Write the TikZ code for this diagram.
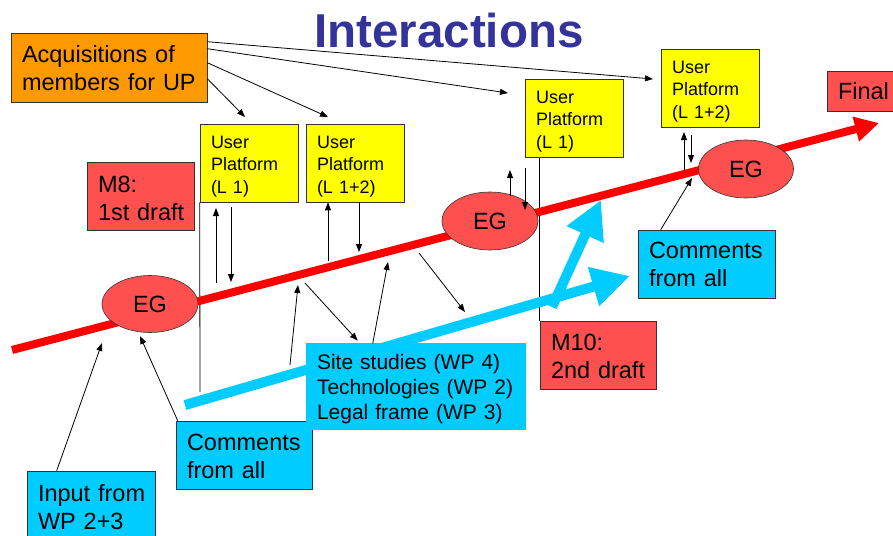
\documentclass[tikz,border=0pt]{standalone}
\usepackage{fontspec}
\setmainfont{Liberation Sans}
\usetikzlibrary{arrows.meta,calc,shapes.geometric,backgrounds}
\definecolor{ttl}{HTML}{333399}
\definecolor{orng}{HTML}{FF9900}
\definecolor{rbox}{HTML}{FF5050}
\definecolor{cyanb}{HTML}{00CCFF}
\definecolor{yel}{HTML}{FFFF00}
\definecolor{redl}{HTML}{FF0000}
\begin{document}
\begin{tikzpicture}[x=1pt,y=-1pt,
 bx/.style={draw=black!80,line width=0.6pt,inner xsep=11pt,inner ysep=0pt,align=left,font=\fontsize{23.5}{28}\selectfont},
 ybx/.style={bx,fill=yel,font=\fontsize{18}{22.5}\selectfont,text width=76pt,text height=24pt,text depth=54pt},
 obx/.style={bx,fill=orng},
 rbx/.style={bx,fill=rbox},
 cbx/.style={bx,fill=cyanb},
 eg/.style={ellipse,draw=black!80,line width=0.6pt,fill=rbox,inner sep=0pt,font=\fontsize{23.5}{28}\selectfont},
 arr/.style={line width=0.8pt,-{Triangle[length=8pt,width=6pt]}},
 ln/.style={line width=0.8pt},
 redarr/.style={line width=8pt,draw=redl,-{Triangle[length=24pt,width=24pt]}},
 bluearr/.style={line width=10pt,draw=cyanb,-{Triangle[length=38pt,width=38pt]}}
]
\useasboundingbox (0,0) rectangle (893,535);

% title
\node[anchor=base,font=\fontsize{47.5}{50}\selectfont\bfseries,text=ttl,inner sep=0pt] (title) at (449,47.5) {Interactions};

% boxes
\node[obx,text width=174pt,text height=30pt,text depth=39pt] (acq) at (109,67.5) {Acquisitions~of\\members~for~UP};
\node[ybx] (up1) at (249,163) {User\\Platform\\(L~1)};
\node[ybx] (up2) at (355,163) {User\\Platform\\(L~1+2)};
\node[ybx] (up3) at (574,118) {User\\Platform\\(L~1)};
\node[ybx] (up4) at (710,88) {User\\Platform\\(L~1+2)};
\node[rbx,text width=85pt,text height=30pt,text depth=38pt] (m8) at (140.5,196) {M8:\\1st~draft};
\node[rbx,text width=94pt,text height=29pt,text depth=39pt] (m10) at (598,355) {M10:\\2nd~draft};
\node[rbx,text width=53pt,text height=28pt,text depth=12pt] (final) at (864.5,91) {Final};
\node[cbx,text width=106pt,text height=30pt,text depth=38pt] (input) at (91,505) {Input~from\\WP~2+3};
\node[cbx,text width=114pt,text height=29pt,text depth=39pt] (com1) at (244,455) {Comments\\from~all};
\node[cbx,text width=115pt,text height=28pt,text depth=40pt] (com2) at (706.5,264) {Comments\\from~all};
\node[cbx,draw=none,text width=198pt,text height=26pt,text depth=61pt,font=\fontsize{21}{25}\selectfont] (site) at (416,386.5) {Site~studies~(WP~4)\\Technologies~(WP~2)\\Legal~frame~(WP~3)};

% ellipses
\node[eg,minimum width=96pt,minimum height=57pt] (eg1) at (150,304) {EG};
\node[eg,minimum width=96pt,minimum height=58pt] (eg2) at (490,221) {EG};
\node[eg,minimum width=95pt,minimum height=58pt] (eg3) at (746,169) {EG};

% coordinates
\coordinate (v1) at (200,392);
\coordinate (r0) at (12,350);
\coordinate (r1) at (879,123);
\coordinate (b0) at (185,405);
\coordinate (b1) at (630,276);
\coordinate (b2) at (552,307);
\coordinate (b3) at (601,200);
\coordinate (t1) at (653,79);
\coordinate (t2) at (508,93);
\coordinate (t3) at (328,117);
\coordinate (t4) at (245,117);
\coordinate (u1a) at (216,283);
\coordinate (u1b) at (216,208);
\coordinate (u1c) at (231,207);
\coordinate (u1d) at (231,282);
\coordinate (u2a) at (328,261);
\coordinate (u2d) at (359,252);
\coordinate (u3a) at (510,196);
\coordinate (u3b) at (510,170);
\coordinate (u3c) at (525,168);
\coordinate (u3d) at (525,210);
\coordinate (u4a) at (684,170);
\coordinate (u4b) at (684,132);
\coordinate (u4c) at (691,135);
\coordinate (u4d) at (691,163);
\coordinate (e1a) at (102,343);
\coordinate (e1b) at (140,336);
\coordinate (e3a) at (692,178);
\coordinate (ma0) at (290,365);
\coordinate (ma1) at (298,285);
\coordinate (mb0) at (305,283);
\coordinate (mc1) at (388,262);
\coordinate (md0) at (419,253);
\coordinate (md1) at (465,312);

\begin{pgfonlayer}{background}
\fill[white] (0,0) rectangle (893,535);
\draw[ln] (up1.south west) -- (v1);
\draw[ln] ($(up3.south west)+(15,0)$) -- (m10.north west);
\draw[redarr] (r0) -- (r1);
\draw[bluearr] (b0) -- (b1);
\draw[bluearr] (b2) -- (b3);
\end{pgfonlayer}

% arrows from acquisitions
\draw[arr] ($(acq.north east)+(0,9)$) -- (t1);
\draw[arr] ($(acq.north east)+(0,16)$) -- (t2);
\draw[arr] ($(acq.north east)+(0,30)$) -- (t3);
\draw[arr] ($(acq.north east)+(0,46)$) -- (t4);

% user platform exchanges
\draw[arr] (u1a) -- (u1b);
\draw[arr] (u1c) -- (u1d);
\draw[arr] (u2a) -- (up2.south -| u2a);
\draw[arr] (up2.south -| u2d) -- (u2d);
\draw[arr] (u3a) -- (u3b);
\draw[arr] (u3c) -- (u3d);
\draw[arr] (u4a) -- (u4b);
\draw[arr] (u4c) -- (u4d);

% inputs to EG
\draw[arr] ($(input.north west)+(30,0)$) -- (e1a);
\draw[arr] ($(com1.north west)+(2,0)$) -- (e1b);
\draw[arr] ($(com2.north west)+(23,0)$) -- (e3a);

% middle exchanges
\draw[arr] (ma0) -- (ma1);
\draw[arr] (mb0) -- ($(site.north west)+(52,-2)$);
\draw[arr] ($(site.north west)+(67,1)$) -- (mc1);
\draw[arr] (md0) -- (md1);
\end{tikzpicture}
\end{document}
